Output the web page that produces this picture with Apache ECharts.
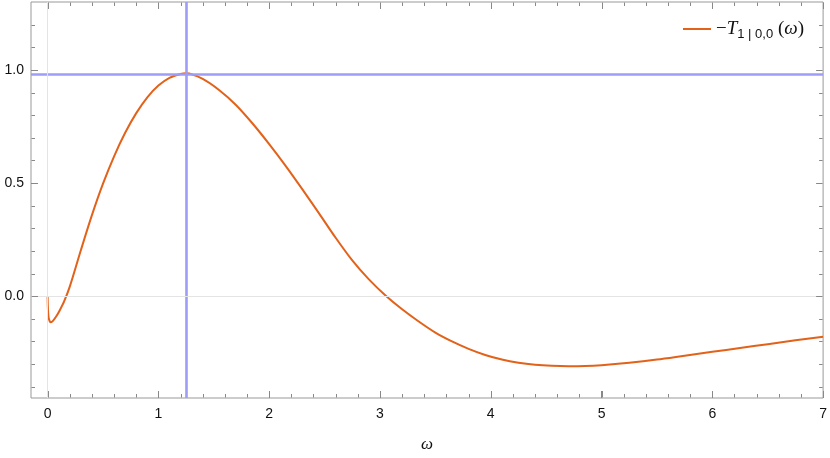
<!DOCTYPE html>
<html>
<head>
<meta charset="utf-8">
<script src="https://cdn.jsdelivr.net/npm/echarts@6/dist/echarts.min.js"></script>
<style>html,body{margin:0;padding:0;background:#fff}#c{width:830px;height:458px}</style>
</head>
<body>
<div id="c"></div>
<script>
var omega = [0, 0.002, 0.005, 0.01, 0.02, 0.03, 0.05, 0.08, 0.11, 0.15, 0.2, 0.3, 0.4, 0.5, 0.6, 0.7, 0.8, 0.9, 1.0, 1.1, 1.2, 1.25, 1.40, 1.55, 1.70, 1.85, 2.00, 2.15, 2.30, 2.45, 2.60, 2.75, 2.90, 3.05, 3.20, 3.35, 3.50, 3.65, 3.80, 3.95, 4.10, 4.25, 4.40, 4.55, 4.70, 4.85, 5.00, 5.25, 5.50, 5.75, 6.00, 6.25, 6.50, 6.75, 7.00];
var negT = [0, -0.045, -0.075, -0.097, -0.112, -0.115, -0.108, -0.088, -0.062, -0.022, 0.042, 0.203, 0.358, 0.497, 0.618, 0.722, 0.809, 0.879, 0.931, 0.965, 0.982, 0.985, 0.960, 0.910, 0.845, 0.763, 0.672, 0.575, 0.472, 0.366, 0.258, 0.158, 0.074, 0.003, -0.058, -0.112, -0.161, -0.200, -0.233, -0.260, -0.280, -0.294, -0.303, -0.308, -0.310, -0.309, -0.305, -0.294, -0.280, -0.263, -0.246, -0.229, -0.212, -0.195, -0.179];
var xMajor = [0, 1, 2, 3, 4, 5, 6, 7];
var xMinor = [0.2,0.4,0.6,0.8,1.2,1.4,1.6,1.8,2.2,2.4,2.6,2.8,3.2,3.4,3.6,3.8,4.2,4.4,4.6,4.8,5.2,5.4,5.6,5.8,6.2,6.4,6.6,6.8];
var yMajor = [0, 0.5, 1.0];
var yMinor = [-0.4,-0.3,-0.2,-0.1,0.1,0.2,0.3,0.4,0.6,0.7,0.8,0.9,1.1,1.2];
var peakX = 1.25, peakY = 0.985;
var seriesName = '−T1|0,0(ω)';

var X_MIN = -0.15, X_MAX = 7.0, Y_MIN = -0.45, Y_MAX = 1.3;
var tickColor = '#888';
var MAJOR_LEN = 7, MINOR_LEN = 4;

var tickPts = [], tickKind = [];
xMajor.forEach(function(v){ tickPts.push([v, Y_MIN]); tickKind.push(['x', true]); });
xMinor.forEach(function(v){ tickPts.push([v, Y_MIN]); tickKind.push(['x', false]); });
yMajor.forEach(function(v){ tickPts.push([X_MIN, v]); tickKind.push(['y', true]); });
yMinor.forEach(function(v){ tickPts.push([X_MIN, v]); tickKind.push(['y', false]); });

function renderTick(params, api) {
  var k = tickKind[params.dataIndex];
  var cs = params.coordSys;
  var left = cs.x, right = cs.x + cs.width, top = cs.y, bottom = cs.y + cs.height;
  var len = k[1] ? MAJOR_LEN : MINOR_LEN;
  var pt = api.coord([api.value(0), api.value(1)]);
  var st = {stroke: tickColor, lineWidth: 1};
  if (k[0] === 'x') {
    var px = Math.round(pt[0]) + 0.5;
    return {type: 'group', children: [
      {type: 'line', shape: {x1: px, y1: bottom - 0.5, x2: px, y2: bottom - len}, style: st},
      {type: 'line', shape: {x1: px, y1: top + 0.5, x2: px, y2: top + len}, style: st}
    ]};
  }
  var py = Math.round(pt[1]) + 0.5;
  return {type: 'group', children: [
    {type: 'line', shape: {x1: left + 0.5, y1: py, x2: left + len, y2: py}, style: st},
    {type: 'line', shape: {x1: right - 0.5, y1: py, x2: right - len, y2: py}, style: st}
  ]};
}

function tickAxis(ticks) {
  return {show: true, inside: true, length: MAJOR_LEN, customValues: ticks, lineStyle: {color: tickColor, width: 1}};
}

var chart = echarts.init(document.getElementById('c'), null, {renderer: 'canvas'});
chart.setOption({
  animation: false,
  backgroundColor: '#fff',
  grid: {left: 31, right: 4, top: 2, bottom: 60, show: true, borderColor: '#999', borderWidth: 1, backgroundColor: 'transparent'},
  legend: {
    show: true, right: 21, top: 11, icon: 'rect', itemWidth: 28, itemHeight: 2, itemGap: 12,
    data: [seriesName],
    formatter: function() { return '{n|−}{i|T}{s|1 | 0,0}{n| (}{i|ω}{n|)}'; },
    textStyle: {
      color: '#111',
      rich: {
        n: {fontSize: 19, fontFamily: 'Liberation Serif, Times New Roman, serif', color: '#111', lineHeight: 24},
        i: {fontSize: 19, fontStyle: 'italic', fontFamily: 'Liberation Serif, Times New Roman, serif', color: '#111', lineHeight: 24},
        s: {fontSize: 13, fontFamily: 'Liberation Sans, Arial, sans-serif', color: '#111', verticalAlign: 'bottom', lineHeight: 24, padding: [12, 0, 0, 0]}
      }
    }
  },
  xAxis: {
    type: 'value', min: X_MIN, max: X_MAX,
    axisLine: {show: false, onZero: false},
    splitLine: {show: false},
    axisTick: tickAxis(xMajor),
    axisLabel: {show: true, customValues: xMajor, color: '#111', fontSize: 14, fontFamily: 'Liberation Sans, Arial, sans-serif', margin: 9},
    name: 'ω', nameLocation: 'middle', nameGap: 38,
    nameTextStyle: {fontSize: 17, fontStyle: 'italic', color: '#111', fontFamily: 'Liberation Serif, Times New Roman, serif'}
  },
  yAxis: {
    type: 'value', min: Y_MIN, max: Y_MAX,
    axisLine: {show: false, onZero: false},
    splitLine: {show: false},
    axisTick: tickAxis(yMajor),
    axisLabel: {show: true, customValues: yMajor, color: '#111', fontSize: 14, fontFamily: 'Liberation Sans, Arial, sans-serif', margin: 7, formatter: function(v){return v.toFixed(1);}}
  },
  series: [
    {
      name: 'zero', type: 'line', data: [], z: 1, silent: true,
      markLine: {
        silent: true, symbol: ['none', 'none'], label: {show: false},
        lineStyle: {color: '#e4e4e4', width: 1, type: 'solid'},
        data: [{xAxis: 0}, {yAxis: 0}]
      }
    },
    {
      name: 'ticks', type: 'custom', coordinateSystem: 'cartesian2d',
      data: tickPts, renderItem: renderTick, z: 6
    },
    {
      name: seriesName, type: 'line',
      data: omega.map(function(w, i){ return [w, negT[i]]; }),
      smooth: 0.3, symbol: 'none', showSymbol: false, z: 3,
      lineStyle: {color: '#e2621a', width: 2},
      itemStyle: {color: '#e2621a'},
      markLine: {
        silent: true, symbol: ['none', 'none'], label: {show: false}, z: 4,
        lineStyle: {color: '#9d9df7', width: 2.6, type: 'solid'},
        data: [{xAxis: peakX}, {yAxis: peakY}]
      }
    }
  ]
});
</script>
</body>
</html>
